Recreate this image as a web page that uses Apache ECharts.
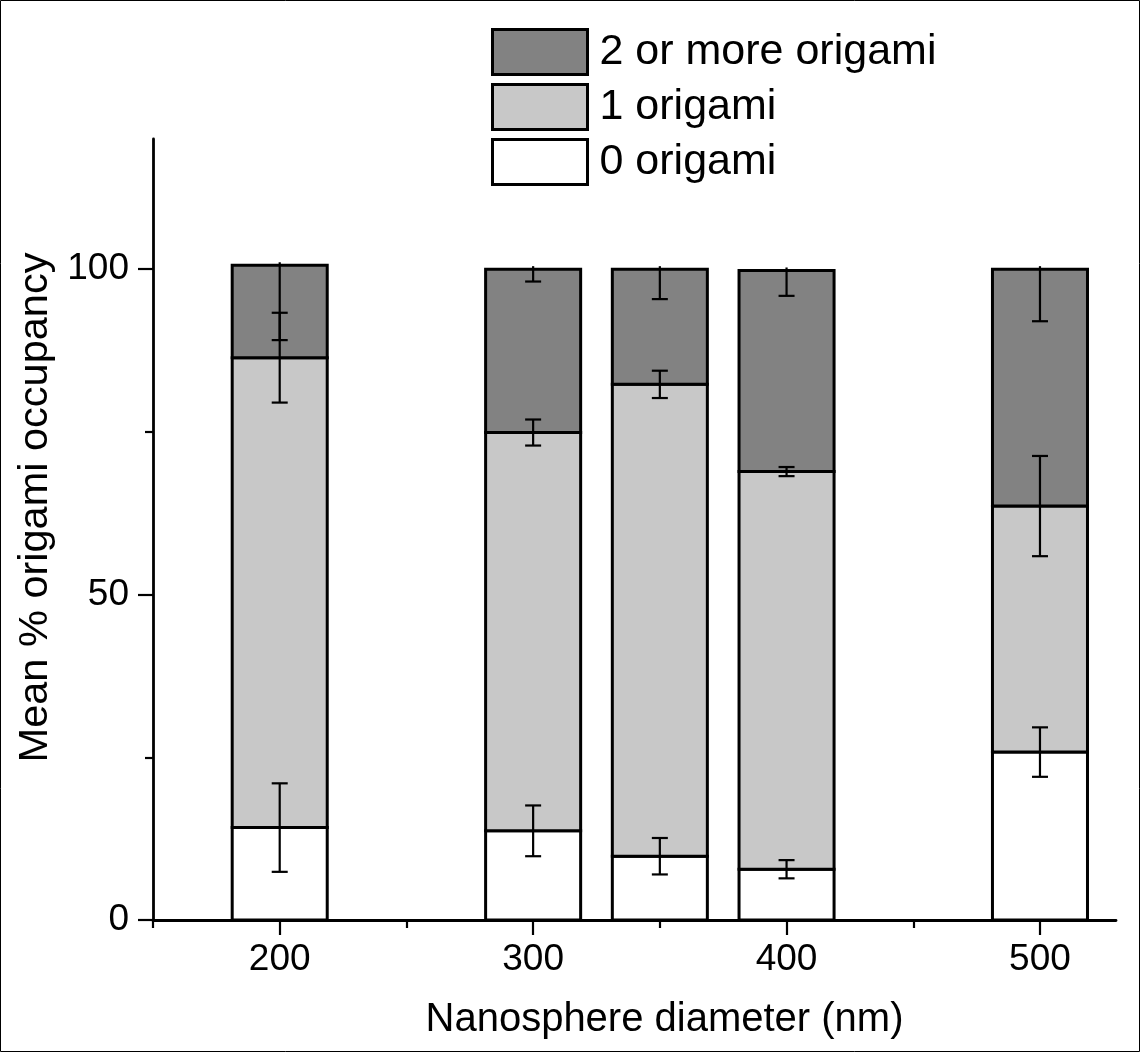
<!DOCTYPE html>
<html><head><meta charset="utf-8">
<script src="https://cdn.jsdelivr.net/npm/echarts@6/dist/echarts.min.js"></script>
<style>html,body{margin:0;padding:0;background:#fff}#chart{width:1140px;height:1052px}</style>
</head><body><div id="chart"></div>
<script>
const diameters = [200, 300, 350, 400, 500];
const zeroOrigami = [14.2, 13.7, 9.8, 7.8, 25.8];
const oneOrigami = [72.2, 61.2, 72.5, 61.1, 37.8];
const twoPlusOrigami = [14.2, 25.1, 17.7, 30.9, 36.4];
const zeroErr = [6.8, 3.9, 2.8, 1.4, 3.8];
const oneErr = [6.9, 2.0, 2.1, 0.7, 7.7];
const twoPlusErr = [11.5, 1.9, 4.6, 3.9, 8.0];
const seriesNames = ['0 origami', '1 origami', '2 or more origami'];
const legendOrder = ['2 or more origami', '1 origami', '0 origami'];
const xMajorTicks = [200, 300, 400, 500];
const xMinorTicks = [150, 250, 350, 450];
const yMajorTicks = [0, 50, 100];
const yMinorTicks = [25, 75];
const BAR_WIDTH = 37.5;

const FONT = '"Liberation Sans", Arial, Helvetica, sans-serif';
const colors = ['#ffffff', '#c8c8c8', '#828282'];
const segs = [zeroOrigami, oneOrigami, twoPlusOrigami];
const errs = [zeroErr, oneErr, twoPlusErr];

// cumulative bounds
const lows = [], highs = [];
for (let k = 0; k < segs.length; k++) {
  lows.push(diameters.map((d, i) => { let s = 0; for (let j = 0; j < k; j++) s += segs[j][i]; return s; }));
  highs.push(diameters.map((d, i) => lows[k][i] + segs[k][i]));
}

function renderBar(params, api) {
  const x = api.value(0), lo = api.value(1), hi = api.value(2);
  const p0 = api.coord([x - BAR_WIDTH / 2, hi]);
  const p1 = api.coord([x + BAR_WIDTH / 2, lo]);
  return {
    type: 'rect',
    shape: { x: p0[0], y: p0[1], width: p1[0] - p0[0], height: p1[1] - p0[1] },
    style: { fill: api.visual('color'), stroke: '#000', lineWidth: 3 }
  };
}

function renderErr(params, api) {
  const x = api.value(0), c = api.value(1), e = api.value(2), both = api.value(3);
  const pc = api.coord([x, c]);
  const pl = api.coord([x, c - e]);
  const pu = api.coord([x, c + e]);
  const topY = both ? pu[1] : pc[1] - 3;
  const hw = 8;
  const style = { stroke: '#000', lineWidth: 2.2 };
  const children = [
    { type: 'line', shape: { x1: pc[0], y1: topY, x2: pc[0], y2: pl[1] }, style },
    { type: 'line', shape: { x1: pc[0] - hw, y1: pl[1], x2: pc[0] + hw, y2: pl[1] }, style }
  ];
  if (both) children.push({ type: 'line', shape: { x1: pc[0] - hw, y1: pu[1], x2: pc[0] + hw, y2: pu[1] }, style });
  return { type: 'group', children };
}

const series = [];
for (let k = 0; k < segs.length; k++) {
  series.push({
    name: seriesNames[k],
    type: 'custom',
    renderItem: renderBar,
    itemStyle: { color: colors[k], borderColor: '#000', borderWidth: 3 },
    encode: { x: 0, y: [1, 2] },
    data: diameters.map((d, i) => [d, lows[k][i], highs[k][i]]),
    z: 2 + k
  });
}
for (let k = 0; k < segs.length; k++) {
  series.push({
    name: 'err' + k,
    type: 'custom',
    renderItem: renderErr,
    silent: true,
    encode: { x: 0, y: 1 },
    data: diameters.map((d, i) => [d, highs[k][i], errs[k][i], k < 2 ? 1 : 0]),
    z: 10
  });
}

const chart = echarts.init(document.getElementById('chart'), null, { renderer: 'canvas' });
chart.setOption({
  backgroundColor: '#fff',
  animation: false,
  textStyle: { fontFamily: FONT, color: '#000' },
  graphic: [{
    type: 'rect', shape: { x: 0.5, y: 0.5, width: 1139, height: 1051 },
    style: { fill: null, stroke: '#000', lineWidth: 1 }, silent: true, z: 100
  }],
  legend: {
    data: legendOrder,
    orient: 'vertical',
    left: 491, top: 28,
    padding: 0,
    itemWidth: 95, itemHeight: 45, itemGap: 7,
    icon: 'rect',
    itemStyle: { borderColor: '#000', borderWidth: 3 },
    textStyle: { fontSize: 43, color: '#000', fontFamily: FONT, padding: [0, 0, 0, 7] },
    selectedMode: false
  },
  grid: { left: 153, right: 24, top: 139, bottom: 132, containLabel: false },
  xAxis: [{
    type: 'value', min: 150, max: 530, position: 'bottom',
    axisLine: { show: true, onZero: false, lineStyle: { color: '#000', width: 2.8 } },
    axisTick: { show: true, customValues: xMajorTicks, length: 15, lineStyle: { color: '#000', width: 2.2 } },
    axisLabel: { show: true, customValues: xMajorTicks, fontSize: 37, color: '#000', margin: 21, fontFamily: FONT },
    splitLine: { show: false },
    name: 'Nanosphere diameter (nm)', nameLocation: 'middle', nameGap: 80,
    nameTextStyle: { fontSize: 40, color: '#000', fontFamily: FONT, padding: [0, 0, 0, 60] }
  }, {
    type: 'value', min: 150, max: 530, position: 'bottom',
    axisLine: { show: false },
    axisTick: { show: true, customValues: xMinorTicks, length: 8, lineStyle: { color: '#000', width: 2.2 } },
    axisLabel: { show: false },
    splitLine: { show: false }
  }],
  yAxis: [{
    type: 'value', min: 0, max: 120, position: 'left',
    axisLine: { show: true, onZero: false, lineStyle: { color: '#000', width: 2.8 } },
    axisTick: { show: true, customValues: yMajorTicks, length: 15, lineStyle: { color: '#000', width: 2.2 } },
    axisLabel: { show: true, customValues: yMajorTicks, fontSize: 37, color: '#000', margin: 24, fontFamily: FONT },
    splitLine: { show: false },
    name: 'Mean % origami occupancy', nameLocation: 'middle', nameGap: 79, nameRotate: 90,
    nameTextStyle: { fontSize: 41.5, color: '#000', fontFamily: FONT, padding: [0, 0, 0, 44] }
  }, {
    type: 'value', min: 0, max: 120, position: 'left',
    axisLine: { show: false },
    axisTick: { show: true, customValues: yMinorTicks, length: 8, lineStyle: { color: '#000', width: 2.2 } },
    axisLabel: { show: false },
    splitLine: { show: false }
  }],
  series: series
});
</script></body></html>
